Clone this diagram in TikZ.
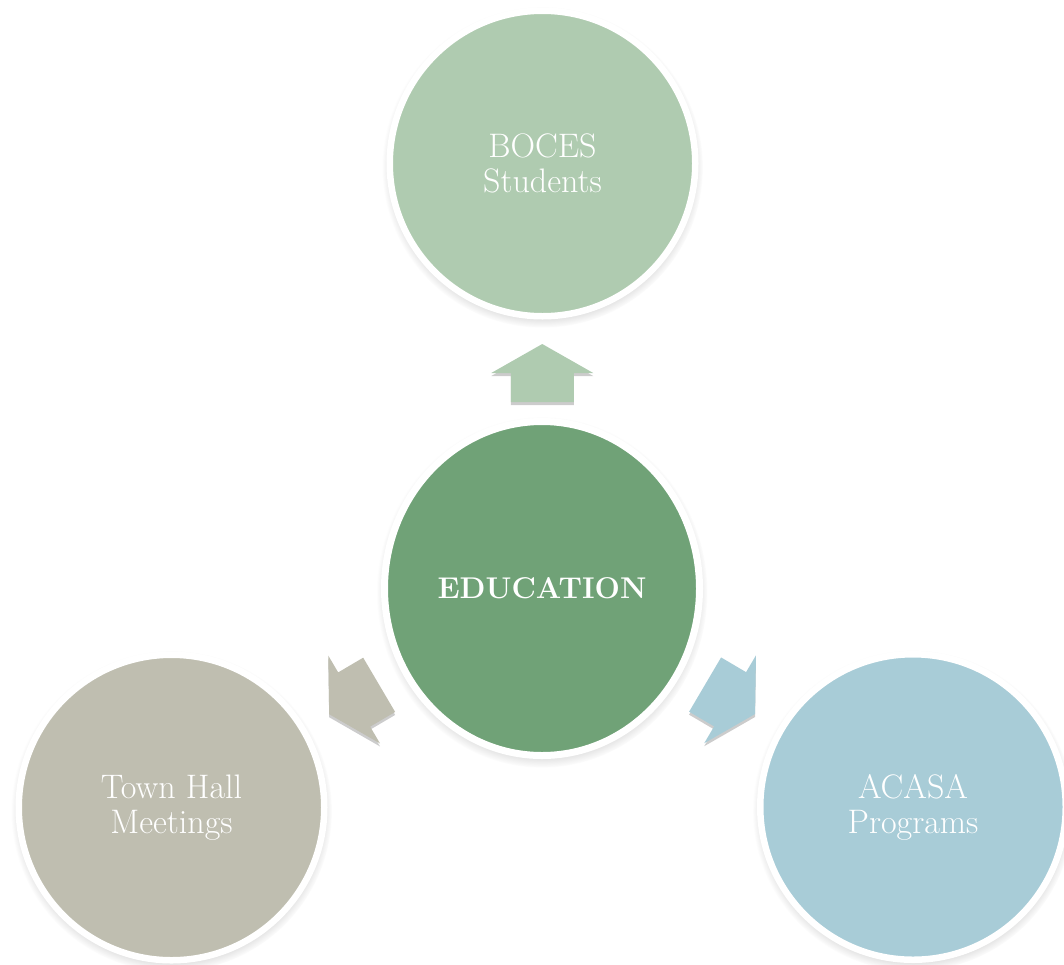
\documentclass[tikz,border=0pt]{standalone}
\usepackage{amsmath}
\usepackage{tikz}
\usetikzlibrary{calc,shapes.geometric,shadows}

\definecolor{bocesgreen}{RGB}{175,203,176}
\definecolor{edugreen}{RGB}{112,162,119}
\definecolor{townstone}{RGB}{191,190,176}
\definecolor{acasablue}{RGB}{168,204,215}

\tikzset{
  softshadow/.style={circular drop shadow={shadow xshift=0pt, shadow yshift=-1.8pt, shadow scale=1.05, opacity=0.55}},
  bubble/.style={circle, minimum size=152.75pt, inner sep=0pt, draw=white, line width=3.25pt,
    text=white, align=center, font=\fontsize{17}{17.5}\selectfont, softshadow},
  hub/.style={bubble, ellipse, minimum width=157.5pt, minimum height=167pt, line width=3.5pt,
    font=\fontsize{15}{18}\selectfont\bfseries},
  blockarrow/.style={drop shadow={shadow xshift=0pt, shadow yshift=-1.5pt, opacity=0.2, fill=black}}
}

% block arrow halfway between two nodes
\newcommand{\conarrow}[4]{%
  \fill[blockarrow, fill=#4, shift={($(#1)!0.5!(#2)$)}, rotate=#3]
    (-26,-31.5) -- (3,-31.5) -- (3,-51) -- (32,0) -- (3,51) -- (3,31.5) -- (-26,31.5) -- cycle;
}

\begin{document}
\begin{tikzpicture}[x=0.5pt,y=0.5pt]
    \useasboundingbox (0,0) rectangle (1064,-964);
    \node [bubble, fill=bocesgreen] (boces) at (542.5,-163.5) {BOCES\\Students};
    \node [hub, fill=edugreen] (edu) at (542,-588.5) {EDUCATION};
    \node [bubble, fill=townstone] (town) at (171.5,-807.5) {Town Hall\\Meetings};
    \node [bubble, fill=acasablue] (acasa) at (913,-807) {ACASA\\Programs};
    \conarrow{edu}{boces}{90}{bocesgreen}
    \conarrow{edu}{town}{210.5}{townstone}
    \conarrow{edu}{acasa}{-30.5}{acasablue}
\end{tikzpicture}
\end{document}
